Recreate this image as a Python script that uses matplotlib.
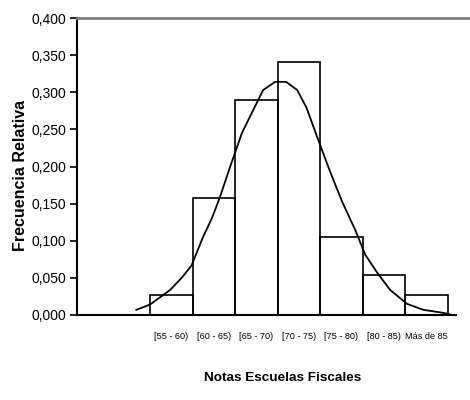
import matplotlib.pyplot as plt
from matplotlib.ticker import FuncFormatter

plt.rcParams['font.family'] = ['Liberation Sans', 'DejaVu Sans']

# class limits (left edge of each interval) and relative frequencies
clases = [55, 60, 65, 70, 75, 80, 85]
etiquetas = ['[55 - 60)', '[60 - 65)', '[65 - 70)', '[70 - 75)', '[75 - 80)', '[80 - 85)', 'Más de 85']
frec_rel = [0.027, 0.157, 0.289, 0.341, 0.105, 0.054, 0.027]

# fitted curve, points
curva_x = [53.4, 55.0, 57.4, 58.8, 59.9, 61.2, 62.3, 63.2, 64.4, 65.8, 67.0, 68.3,
           69.7, 71.0, 72.3, 73.4, 74.7, 76.1, 77.6, 79.1, 80.3, 81.7, 83.2,
           85.2, 87.1, 89.4, 90.2]
curva_y = [0.007, 0.014, 0.034, 0.051, 0.067, 0.104, 0.131, 0.158, 0.199, 0.245, 0.273, 0.303,
           0.314, 0.314, 0.303, 0.279, 0.238, 0.195, 0.152, 0.115, 0.081, 0.057, 0.034,
           0.015, 0.007, 0.003, 0.001]

ancho = 5
fig = plt.figure(figsize=(4.7, 4.0), dpi=100)
ax = fig.add_axes([77 / 470, 1 - 315 / 400, 1 - 77 / 470, 297 / 400])

ax.bar(clases, frec_rel, width=ancho, align='edge', facecolor='none',
       edgecolor='black', linewidth=1.2, zorder=2)
ax.plot(curva_x, curva_y, color='black', linewidth=1.3, zorder=3)

ax.set_xlim(46.43, 92.6)
ax.set_ylim(0, 0.4)
ax.set_yticks([i * 0.05 for i in range(9)])
ax.yaxis.set_major_formatter(FuncFormatter(lambda v, p: f'{v:.3f}'.replace('.', ',')))
ax.set_xticks([c + ancho / 2 for c in clases])
ax.set_xticklabels(etiquetas, fontsize=6.6)
ax.tick_params(axis='x', length=0, pad=12)
ax.tick_params(axis='y', length=5, width=1.2, labelsize=10, pad=3)

ax.spines['right'].set_visible(False)
ax.spines['top'].set_color('#808080')
ax.spines['top'].set_linewidth(2)
ax.spines['left'].set_linewidth(1.5)
ax.spines['bottom'].set_linewidth(1.5)
ax.spines['bottom'].set_bounds(46.43, 90.9)

fig.text(283 / 470, 1 - 378 / 400, 'Notas Escuelas Fiscales', ha='center', va='center',
         fontsize=9.7, fontweight='bold')
fig.text(21 / 470, 1 - 175 / 400, 'Frecuencia Relativa', ha='center', va='center',
         rotation=90, fontsize=11.5, fontweight='bold')

fig.savefig('out.png', dpi=100)
